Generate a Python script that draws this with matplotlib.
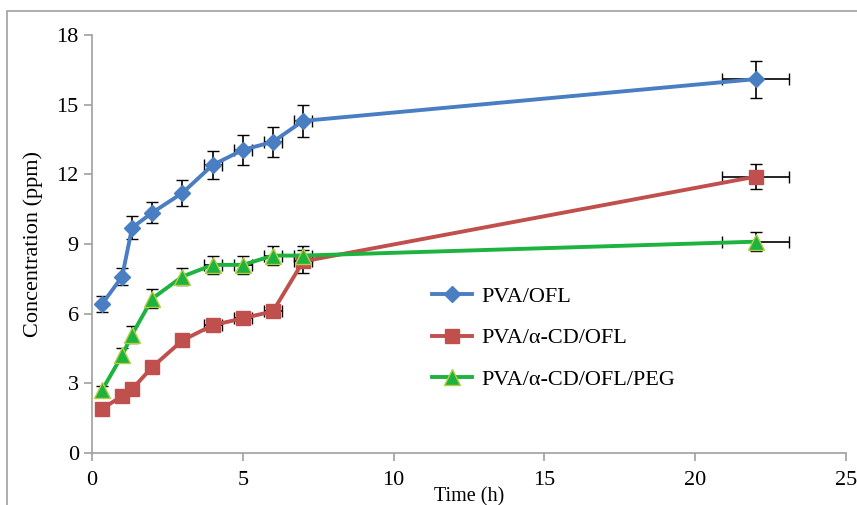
import matplotlib.pyplot as plt
import matplotlib.patches as mpatches
import numpy as np

# release data
time_h = [0.33, 1.0, 1.33, 2.0, 3.0, 4.0, 5.0, 6.0, 7.0, 22.0]
time_err = [0.0, 0.0, 0.0, 0.0, 0.0, 0.3, 0.3, 0.3, 0.3, 1.1]

pva_ofl = [6.4, 7.6, 9.7, 10.35, 11.2, 12.4, 13.05, 13.4, 14.3, 16.1]
pva_ofl_err = [0.35, 0.35, 0.5, 0.45, 0.55, 0.6, 0.65, 0.65, 0.7, 0.8]

pva_cd_ofl = [1.9, 2.45, 2.75, 3.7, 4.85, 5.5, 5.8, 6.1, 8.25, 11.9]
pva_cd_ofl_err = [0.15, 0.15, 0.15, 0.2, 0.2, 0.25, 0.25, 0.25, 0.5, 0.55]

pva_cd_ofl_peg = [2.7, 4.2, 5.1, 6.65, 7.6, 8.1, 8.1, 8.5, 8.5, 9.1]
pva_cd_ofl_peg_err = [0.2, 0.3, 0.35, 0.4, 0.35, 0.4, 0.4, 0.4, 0.4, 0.4]

plt.rcParams['font.family'] = ['Liberation Serif', 'DejaVu Serif']

fig = plt.figure(figsize=(8.57, 5.05), dpi=100)
ax = fig.add_axes([0.1073, 0.103, 0.8799, 0.8277])

# outer frame
fig.patches.append(mpatches.Rectangle((0.008, -0.05), 1.2, 1.028, transform=fig.transFigure,
                                      fill=False, edgecolor='#a0a0a0', linewidth=1.2))

series = [
    (pva_ofl, pva_ofl_err, 'PVA/OFL', '#4a7ec2', 'D', '#4a7ec2', 8.5),
    (pva_cd_ofl, pva_cd_ofl_err, 'PVA/α-CD/OFL', '#c0504d', 's', '#c0504d', 10.5),
    (pva_cd_ofl_peg, pva_cd_ofl_peg_err, 'PVA/α-CD/OFL/PEG', '#1cb33e', '^', '#b5cc44', 11.5),
]

for y, yerr, label, color, marker, edge, ms in series:
    ax.errorbar(time_h, y, yerr=yerr, xerr=time_err, color=color, linewidth=2.8,
                marker=marker, markersize=ms, markerfacecolor=color, markeredgecolor=edge,
                markeredgewidth=1, ecolor='black', elinewidth=1.2, capsize=4, capthick=1.2,
                label=label)

ax.set_xlim(0, 25)
ax.set_ylim(0, 18)
ax.set_xticks(np.arange(0, 26, 5))
ax.set_yticks(np.arange(0, 19, 3))
for s in ['top', 'right']:
    ax.spines[s].set_visible(False)
for s in ['left', 'bottom']:
    ax.spines[s].set_color('#a0a0a0')
    ax.spines[s].set_linewidth(1.2)
ax.tick_params(colors='#a0a0a0', labelcolor='black', labelsize=16, length=6, width=1.2)
ax.tick_params(axis='x', pad=7)

ax.set_xlabel('Time (h)', fontsize=14.5, labelpad=-2)
ax.set_ylabel('Concentration (ppm)', fontsize=16, labelpad=10)

handles, labels = ax.get_legend_handles_labels()
handles = [h[0] for h in handles]
ax.legend(handles, labels, loc='upper left', bbox_to_anchor=(0.425, 0.447), frameon=False,
          fontsize=16, handlelength=1.8, labelspacing=0.95, handletextpad=0.4)

fig.savefig('out.png', dpi=100)
